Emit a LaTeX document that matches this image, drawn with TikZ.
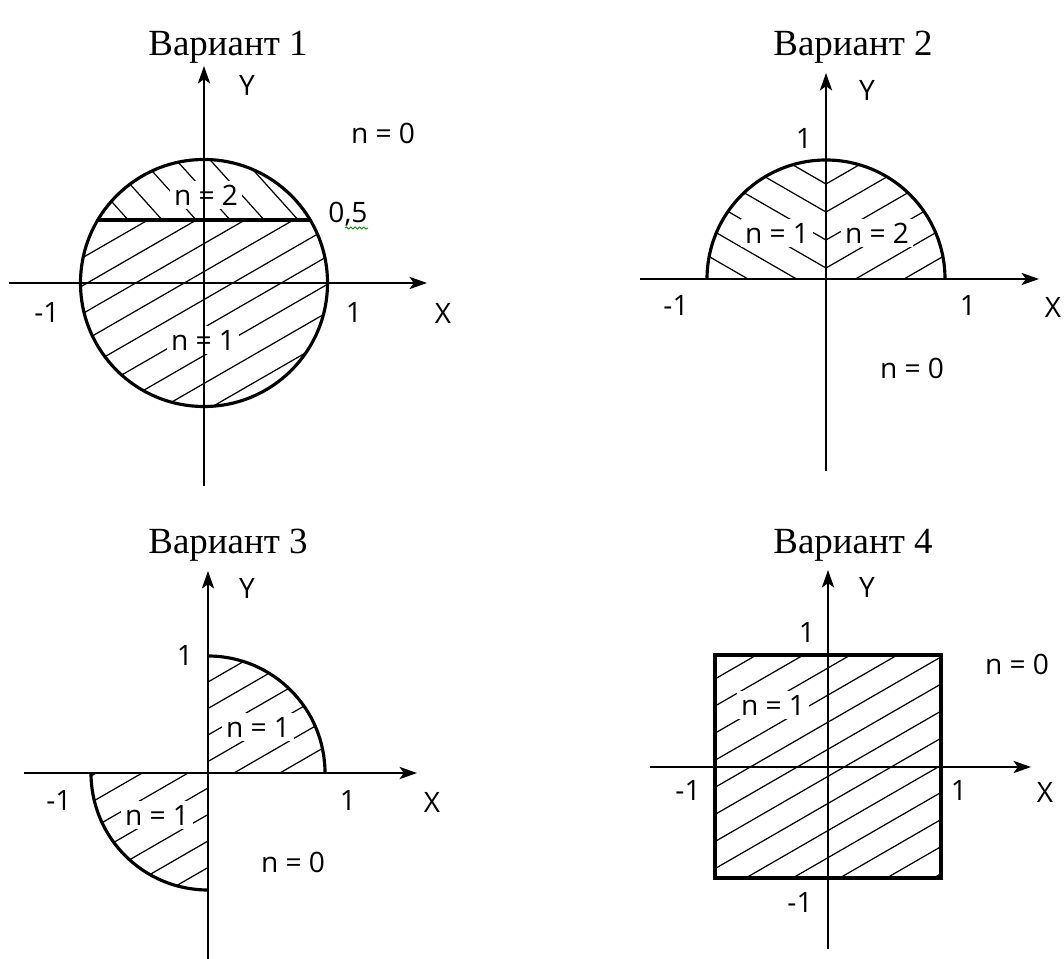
\documentclass[tikz,border=0pt]{standalone}
\usepackage{fontspec}
\setmainfont{Liberation Serif}
\newfontfamily\rotfont{Open Sans}
\usepackage{tikz}
\usetikzlibrary{arrows.meta,decorations.pathmorphing}

\begin{document}
\begin{tikzpicture}[
    x=0.02cm,y=-0.02cm,
    eixo/.style={line width=0.8pt,-{Stealth[length=10pt,width=7pt,inset=2.5pt]}},
    borda/.style={line width=1.8pt},
    hachura/.style={line width=0.7pt},
    rotulo/.style={font=\rotfont\fontsize{16}{18}\selectfont,inner sep=1pt},
    zona/.style={rotulo,fill=white,inner sep=2pt},
    titulo/.style={font=\fontsize{21}{24}\selectfont,anchor=base}
    ]
    \useasboundingbox (0,0) rectangle (1064,959);

    % Variant 1
    \node[titulo] (t1) at (228,56) {Вариант 1};
    \begin{scope}
      \clip (204,283) circle (123.5);
      \clip (90,220) rectangle (320,150);
      \foreach \k in {-2,...,7}
        \draw[hachura] ({128+34*\k+20},242) -- ({128+34*\k-150},53);
    \end{scope}
    \begin{scope}
      \clip (204,283) circle (123.5);
      \clip (70,220) rectangle (340,420);
      \foreach \k in {-2,...,9}
        \draw[hachura] ({148+48.5*\k-600},566) -- ({148+48.5*\k+100},162.3);
    \end{scope}
    \node[zona] (a2) at (206,195) {n = 2};
    \node[zona] (a1) at (203,340) {n = 1};
    \draw[borda] (204,283) circle (123.5);
    \draw[borda] (97.8,220) -- (310.2,220);
    \coordinate (x1a) at (9,283);
    \coordinate (x1b) at (427,283);
    \coordinate (y1a) at (204,486);
    \coordinate (y1b) at (204,66);
    \draw[eixo] (x1a) -- (x1b);
    \draw[eixo] (y1a) -- (y1b);
    \node[rotulo] (ly1) at (247,85) {Y};
    \node[rotulo] (lx1) at (443,313) {X};
    \node[rotulo] (m1) at (47,312) {-1};
    \node[rotulo] (p1) at (354,312) {1};
    \node[rotulo] (a0) at (383,133) {n = 0};
    \node[rotulo] (h1) at (348,214) {0,5};
    \draw[green!55!black,line width=0.5pt,decorate,
      decoration={snake,amplitude=0.6pt,segment length=2.5pt}] (345,228) -- (368,228);

    % Variant 2
    \node[titulo] (t2) at (853,56) {Вариант 2};
    \begin{scope}
      \clip (707,279) arc[start angle=180,end angle=360,radius=119] -- cycle;
      \clip (826,279) rectangle (950,150);
      \foreach \k in {-3,...,5}
        \draw[hachura] (816,{268-28*\k+5.8}) -- (1026,{268-28*\k-115.4});
    \end{scope}
    \begin{scope}
      \clip (707,279) arc[start angle=180,end angle=360,radius=119] -- cycle;
      \clip (700,279) rectangle (826,150);
      \foreach \k in {-3,...,5}
        \draw[hachura] (836,{268-28*\k+5.8}) -- (626,{268-28*\k-115.4});
    \end{scope}
    \node[zona] (b1) at (777,233) {n = 1};
    \node[zona] (b2) at (877,233) {n = 2};
    \draw[borda] (707,279) arc[start angle=180,end angle=360,radius=119];
    \coordinate (x2a) at (640,279);
    \coordinate (x2b) at (1039,279);
    \coordinate (y2a) at (826,471);
    \coordinate (y2b) at (826,73);
    \draw[eixo] (x2a) -- (x2b);
    \draw[eixo] (y2a) -- (y2b);
    \node[rotulo] (ly2) at (867,90) {Y};
    \node[rotulo] (lx2) at (1053,307) {X};
    \node[rotulo] (q2) at (804,138) {1};
    \node[rotulo] (m2) at (676,305) {-1};
    \node[rotulo] (p2) at (968,305) {1};
    \node[rotulo] (b0) at (912,368) {n = 0};

    % Variant 3
    \node[titulo] (t3) at (228,553) {Вариант 3};
    \begin{scope}
      \clip (208,773) -- (325,773) arc[start angle=0,end angle=-90,radius=117] -- cycle
            (208,773) -- (91,773) arc[start angle=180,end angle=90,radius=117] -- cycle;
      \foreach \k in {-1,...,8}
        \draw[hachura] (58,{682+26.5*\k+86.6}) -- (358,{682+26.5*\k-86.6});
    \end{scope}
    \node[zona] (c1) at (258,727) {n = 1};
    \node[zona] (c2) at (157,815) {n = 1};
    \draw[borda] (208,656) arc[start angle=-90,end angle=0,radius=117];
    \draw[borda] (91,773) arc[start angle=180,end angle=90,radius=117];
    \coordinate (x3a) at (24,773);
    \coordinate (x3b) at (417,773);
    \coordinate (y3a) at (208,960);
    \coordinate (y3b) at (208,571);
    \draw[eixo] (x3a) -- (x3b);
    \draw[eixo] (y3a) -- (y3b);
    \node[rotulo] (ly3) at (247,588) {Y};
    \node[rotulo] (lx3) at (432,802) {X};
    \node[rotulo] (q3) at (185,655) {1};
    \node[rotulo] (m3) at (59,800) {-1};
    \node[rotulo] (p3) at (348,800) {1};
    \node[rotulo] (c0) at (293,862) {n = 0};

    % Variant 4
    \node[titulo] (t4) at (853,553) {Вариант 4};
    \begin{scope}
      \clip (715,655) rectangle (941,878);
      \foreach \k in {-1,...,12}
        \draw[hachura] (695,{679+27.1*\k+11.5}) -- (1015,{679+27.1*\k-173.2});
    \end{scope}
    \node[zona] (d1) at (773,705) {n = 1};
    \draw[borda] (715,655) rectangle (941,878);
    \coordinate (x4a) at (650,767);
    \coordinate (x4b) at (1031,767);
    \coordinate (y4a) at (828,949);
    \coordinate (y4b) at (828,570);
    \draw[eixo] (x4a) -- (x4b);
    \draw[eixo] (y4a) -- (y4b);
    \node[rotulo] (ly4) at (867,587) {Y};
    \node[rotulo] (lx4) at (1045,792) {X};
    \node[rotulo] (q4) at (807,632) {1};
    \node[rotulo] (m4) at (688,790) {-1};
    \node[rotulo] (p4) at (959,790) {1};
    \node[rotulo] (r4) at (800,902) {-1};
    \node[rotulo] (d0) at (1017,664) {n = 0};
  \end{tikzpicture}
\end{document}
